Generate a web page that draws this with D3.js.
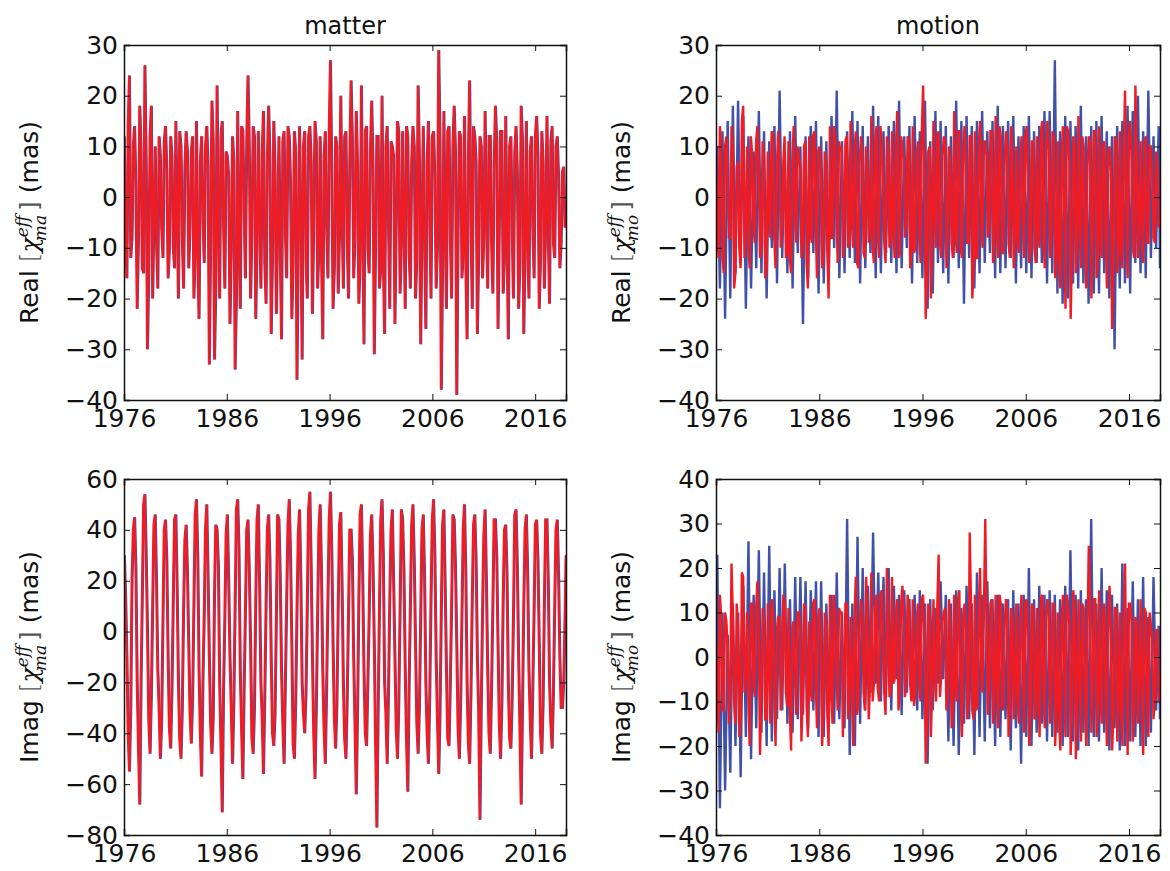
<!DOCTYPE html>
<html>
<head>
<meta charset="utf-8">
<script src="https://cdn.jsdelivr.net/npm/d3@7"></script>
<style>
  body { margin: 0; background: #fff; }
  text { font-family: "DejaVu Sans", sans-serif; fill: #111; }
</style>
</head>
<body>
<div id="chart"></div>
<script>
// values, about 4 samples per year, 1976 to 2019
const matterRealRed = [
  12,-16,24,-8, 14,-22,18,-14, 26,-30,12,-20, 10,-18,8,-12, 14,-16,12,-10,
  15,-20,10,-18, 13,-14,9,-20, 15,-24,12,-13, 14,-33,19,-32, 22,-20,15,-18,
  8,-25,12,-34, 17,-22,13,-16, 24,-20,14,-24, 13,-18,17,-21, 18,-27,15,-23,
  12,-28,13,-16, 12,-24,13,-36, 14,-32,13,-20, 14,-23,15,-18, 12,-28,13,-16,
  27,-22,12,-19, 20,-18,13,-20, 23,-16,17,-21, 22,-29,14,-15, 19,-31,12,-18,
  20,-27,14,-22, 10,-25,15,-19, 13,-22,12,-18, 14,-20,22,-29, 14,-26,15,-20,
  13,-18,29,-38, 17,-22,14,-20, 18,-39,13,-16, 16,-28,23,-22, 12,-27,12,-16,
  17,-18,12,-19, 18,-26,13,-19, 16,-28,12,-20, 14,-22,18,-27, 15,-20,12,-16,
  16,-22,13,-18, 16,-21,14,-12, 12,-14,5,-6
];
// in-between samples of the real parts (smaller swings)
const realMid = [
  -6,14,-12,10, 2,-8,9,-15, 7,-14,18,-4, -9,12,-6,11, 5,-10,8,-14,
  -3,13,-8,6, 9,-6,12,-11, -12,7,-4,10, 6,-9,11,-18, -7,12,-5,9,
  4,-11,7,-20, -8,14,-3,11, 10,-7,12,-9, -5,9,-13,7, 8,-12,5,-6,
  -10,11,-7,14, 3,-13,9,-8, -6,10,-12,12, 7,-5,11,-10, -11,8,-6,13,
  5,-14,10,-7, -4,12,-9,8, 11,-8,6,-12, -7,13,-10,9, 6,-9,12,-14,
  -12,10,-5,11, 8,-6,13,-9, -5,14,-11,7, 10,-12,8,-6, -9,7,-4,12,
  4,-10,11,-13, -6,13,-8,10, 9,-7,12,-11, -13,8,-5,14, 7,-11,10,-8,
  -4,12,-9,6, 11,-6,13,-12, -8,10,-7,9, 5,-13,11,-10, -10,9,-6,12,
  8,-12,7,-5, -7,11,-9,10, 4,-9,6,-4
];
const matterImagRed = [
  30,-10,-55,20, 45,-20,-68,15, 54,0,-48,10, 46,-15,-50,5, 44,-10,-46,12,
  46,-20,-50,8, 42,-5,-44,10, 52,-15,-57,6, 50,-10,-48,15, 40,-20,-71,5,
  46,-10,-52,10, 52,-15,-58,8, 44,-5,-48,12, 50,-20,-56,10, 46,-10,-45,6,
  44,-15,-52,12, 52,-5,-50,8, 48,-20,-40,10, 55,-10,-58,6, 50,-15,-52,12,
  55,-5,-46,10, 47,-20,-50,8, 40,-10,-64,12, 50,-15,-45,6, 46,-5,-77,10,
  52,-20,-52,12, 48,-10,-50,8, 44,-15,-63,10, 50,-5,-48,6, 46,-20,-52,12,
  52,-10,-56,8, 48,-15,-45,10, 44,-5,-50,6, 50,-20,-52,12, 46,-10,-74,8,
  48,-15,-48,10, 44,-5,-50,12, 42,-20,-46,6, 48,-10,-68,10, 46,-15,-50,8,
  44,-5,-48,12, 44,-20,-46,10, 44,-10,-30,5
];
const matterImagMid = [
  15,-40,-30,40, 25,-45,-20,50, 30,-35,-25,42, 20,-30,-35,40, 28,-38,-22,44,
  18,-42,-30,36, 24,-32,-26,46, 30,-40,-20,40, 22,-36,-34,42, 26,-44,-24,38,
  20,-30,-28,48, 32,-38,-22,40, 24,-42,-30,44, 18,-34,-26,40, 28,-40,-32,46,
  22,-36,-20,42, 30,-44,-28,38, 20,-32,-24,48, 26,-40,-30,40, 24,-38,-22,44,
  32,-34,-28,42, 18,-42,-26,40, 28,-36,-32,46, 22,-40,-20,38, 26,-44,-30,44,
  30,-32,-24,40, 20,-38,-28,48, 24,-42,-22,42, 28,-36,-30,40, 22,-40,-26,44,
  30,-34,-32,42, 18,-42,-20,46, 26,-38,-28,40, 24,-44,-24,42, 28,-32,-30,38,
  20,-40,-22,44, 30,-36,-28,40, 22,-42,-26,46, 26,-38,-30,40, 24,-34,-22,42,
  28,-40,-28,44, 20,-36,-24,40, 22,-30,-20,30
];
const motionRealRed = [
  8,-12,10,-15, 12,-8,14,-18, 6,-10,15,-12, 10,-14,8,-9, 14,-12,11,-16,
  9,-8,12,-14, 13,-10,7,-12, 11,-15,14,-9, 8,-12,10,-13, 12,-9,13,-16,
  10,-14,9,-11, 14,-8,12,-13, 9,-12,11,-10, 15,-10,13,-14, 12,-11,10,-9,
  16,-13,14,-12, 11,-9,12,-10, 13,-12,17,-11, 10,-8,12,-14, 14,-10,11,-13,
  22,-24,9,-20, 15,-10,13,-12, 12,-14,10,-9, 17,-11,13,-12, 14,-9,12,-20,
  13,-12,15,-10, 11,-8,13,-13, 16,-12,12,-11, 13,-9,14,-14, 10,-11,12,-12,
  14,-13,11,-10, 12,-10,15,-14, 15,-12,13,-16, 11,-18,14,-22, 13,-24,12,-15,
  16,-14,10,-18, 12,-20,13,-16, 14,-12,11,-18, 10,-26,12,-15, 13,-14,21,-16,
  15,-10,22,-12, 11,-13,12,-9, 10,-8,9,-6
];
const motionRealBlue = [
  10,-18,13,-24, 15,-20,18,-15, 19,-13,16,-22, 12,-18,9,-14, 17,-15,13,-20,
  11,-10,14,-17, 21,-12,9,-15, 13,-18,16,-11, 10,-25,12,-16, 14,-11,15,-19,
  12,-17,11,-14, 16,-10,21,-16, 11,-15,13,-12, 17,-13,15,-17, 14,-14,12,-11,
  18,-16,16,-15, 13,-11,14,-13, 15,-15,19,-14, 12,-10,14,-17, 16,-13,13,-16,
  19,-22,11,-19, 17,-13,15,-15, 14,-17,12,-12, 19,-14,15,-21, 16,-12,14,-18,
  15,-15,17,-13, 13,-11,15,-16, 18,-15,14,-14, 15,-12,16,-17, 12,-14,14,-15,
  16,-16,13,-13, 14,-13,17,-17, 17,-15,27,-19, 13,-21,16,-20, 15,-17,14,-18,
  18,-17,12,-21, 14,-19,15,-19, 16,-15,13,-20, 12,-30,14,-18, 15,-17,18,-19,
  17,-13,20,-15, 13,-16,21,-12, 12,-10,14,-14
];
const motionImagRed = [
  5,-17,9,-12, 8,-15,21,-10, 12,-18,19,-8, 10,-20,12,-9, 17,-22,11,-14,
  12,-15,10,-20, 9,-12,14,-8, 11,-21,8,-13, 10,-19,12,-11, 8,-10,13,-16,
  11,-20,10,-13, 14,-15,9,-12, 10,-18,12,-14, 9,-20,18,-10, 13,-8,18,-14,
  19,-6,14,-10, 15,-8,20,-9, 18,-5,13,-7, 16,-9,14,-6, 13,-8,12,-10,
  14,-24,12,-18, 13,-10,23,-4, 10,-12,13,-16, 14,-10,15,-18, 12,-14,28,-12,
  14,-11,20,-8, 31,-13,12,-15, 14,-16,12,-12, 13,-18,11,-14, 12,-15,14,-17,
  13,-20,12,-14, 11,-18,14,-16, 13,-15,12,-20, 10,-21,14,-18, 12,-22,15,-23,
  13,-19,11,-20, 25,-17,13,-18, 15,-15,12,-20, 16,-21,11,-19, 10,-20,21,-22,
  12,-19,9,-15, 13,-22,10,-18, 7,-14,6,-10
];
const motionImagBlue = [
  23,-34,10,-30, 5,-26,12,-20, 10,-27,16,-18, 26,-23,14,-16, 24,-17,19,-20,
  25,-19,15,-14, 20,-12,21,-15, 13,-17,18,-14, 18,-13,17,-16, 15,-12,17,-18,
  17,-18,12,-10, 14,-15,19,-14, 10,-16,31,-22, 12,-20,27,-15, 20,-12,16,-8,
  28,-6,19,-10, 18,-9,20,-12, 16,-5,14,-13, 15,-8,13,-9, 14,-12,15,-14,
  12,-24,13,-12, 11,-6,17,-5, 14,-19,12,-20, 15,-22,11,-15, 16,-14,12,-22,
  19,-18,14,-19, 17,-16,13,-20, 14,-18,12,-14, 13,-21,15,-16, 12,-24,14,-18,
  20,-20,13,-17, 16,-15,14,-19, 15,-18,14,-17, 13,-20,16,-18, 24,-19,14,-21,
  15,-17,13,-20, 31,-18,12,-19, 20,-17,15,-21, 14,-16,12,-21, 21,-20,11,-19,
  17,-18,13,-20, 18,-20,9,-17, 18,-12,7,-14
];
const yearTicks = [1976, 1986, 1996, 2006, 2016];

const blue = "#3f51a8", red = "#ee1d25";
const W = 1170, H = 871;
const cols = [{x0: 124, x1: 566}, {x0: 716, x1: 1160}];
const rows = [{y0: 45, y1: 400}, {y0: 479, y1: 835}];

// interleave main samples with the in-between ones
const weave = (a, b) => a.flatMap((v, i) => [v, b[i]]);

const panels = [
  {r: 0, c: 0, red: weave(matterRealRed, realMid), blue: weave(matterRealRed, realMid), dom: [-40, 30], step: 10, part: "Real", sub: "ma", title: "matter"},
  {r: 0, c: 1, red: weave(motionRealRed, realMid), blue: motionRealBlue, dom: [-40, 30], step: 10, part: "Real", sub: "mo", title: "motion"},
  {r: 1, c: 0, red: weave(matterImagRed, matterImagMid), blue: weave(matterImagRed, matterImagMid), dom: [-80, 60], step: 20, part: "Imag", sub: "ma"},
  {r: 1, c: 1, red: weave(motionImagRed, realMid), blue: motionImagBlue, dom: [-40, 40], step: 10, part: "Imag", sub: "mo"}
];

const svg = d3.select("#chart").append("svg").attr("width", W).attr("height", H);
const fmt = d => String(d).replace("-", "\u2212");

panels.forEach(p => {
  const c = cols[p.c], r = rows[p.r];
  const x = d3.scaleLinear().domain([1976, 2019]).range([c.x0, c.x1]);
  const y = d3.scaleLinear().domain(p.dom).range([r.y1, r.y0]);
  const g = svg.append("g");

  g.append("clipPath").attr("id", "clip" + p.r + p.c)
    .append("rect").attr("x", c.x0).attr("y", r.y0)
    .attr("width", c.x1 - c.x0).attr("height", r.y1 - r.y0);

  const line = (n, off) => d3.line()
    .x((d, i) => x(1976 + Math.min(43, (i + off) * 43 / (n - 1))))
    .y(d => y(d));

  const plot = g.append("g").attr("clip-path", `url(#clip${p.r}${p.c})`);
  plot.append("path").attr("d", line(p.blue.length, 0.5)(p.blue))
    .attr("fill", "none").attr("stroke", blue).attr("stroke-width", 2.4);
  plot.append("path").attr("d", line(p.red.length, 0)(p.red))
    .attr("fill", "none").attr("stroke", red).attr("stroke-width", 2.4);

  const ticks = d3.range(p.dom[0], p.dom[1] + 0.1, p.step);
  // axes, ticks pointing inward like classic matplotlib
  g.append("g").attr("transform", `translate(0,${r.y1})`)
    .call(d3.axisBottom(x).tickValues(yearTicks).tickSize(-6).tickPadding(9).tickFormat(d3.format("d")));
  g.append("g").attr("transform", `translate(0,${r.y0})`)
    .call(d3.axisTop(x).tickValues(yearTicks).tickSize(-6).tickFormat(""));
  g.append("g").attr("transform", `translate(${c.x0},0)`)
    .call(d3.axisLeft(y).tickValues(ticks).tickSize(-6).tickPadding(6).tickFormat(fmt));
  g.append("g").attr("transform", `translate(${c.x1},0)`)
    .call(d3.axisRight(y).tickValues(ticks).tickSize(-6).tickFormat(""));
  g.selectAll(".domain").attr("stroke", "#111").attr("stroke-width", 1.5);
  g.selectAll(".tick line").attr("stroke", "#111");
  g.selectAll(".tick text").style("font-size", "25px").attr("fill", "#111")
    .style("font-family", "'DejaVu Sans', sans-serif");

  if (p.title) {
    g.append("text").attr("x", (c.x0 + c.x1) / 2).attr("y", 34)
      .attr("text-anchor", "middle").style("font-size", "24px").text(p.title);
  }

  const lab = g.append("text")
    .attr("transform", `translate(${c.x0 - 86},${(r.y0 + r.y1) / 2}) rotate(-90)`)
    .attr("text-anchor", "middle").style("font-size", "25px");
  lab.append("tspan").text(p.part + " ");
  lab.append("tspan").attr("fill", "#555").style("font-weight", "200").text("[");
  lab.append("tspan").style("font-style", "italic").style("font-family", "'DejaVu Serif', serif").text("\u03c7");
  lab.append("tspan").attr("dy", -10).style("font-size", "17px").style("font-style", "italic")
    .style("font-family", "'DejaVu Serif', serif").text("eff");
  lab.append("tspan").attr("dx", -26).attr("dy", 18).style("font-size", "17px").style("font-style", "italic")
    .style("font-family", "'DejaVu Serif', serif").text(p.sub);
  lab.append("tspan").attr("dy", -8).attr("dx", 4).attr("fill", "#555").text("]");
  lab.append("tspan").text(" (mas)");
});
</script>
</body>
</html>
